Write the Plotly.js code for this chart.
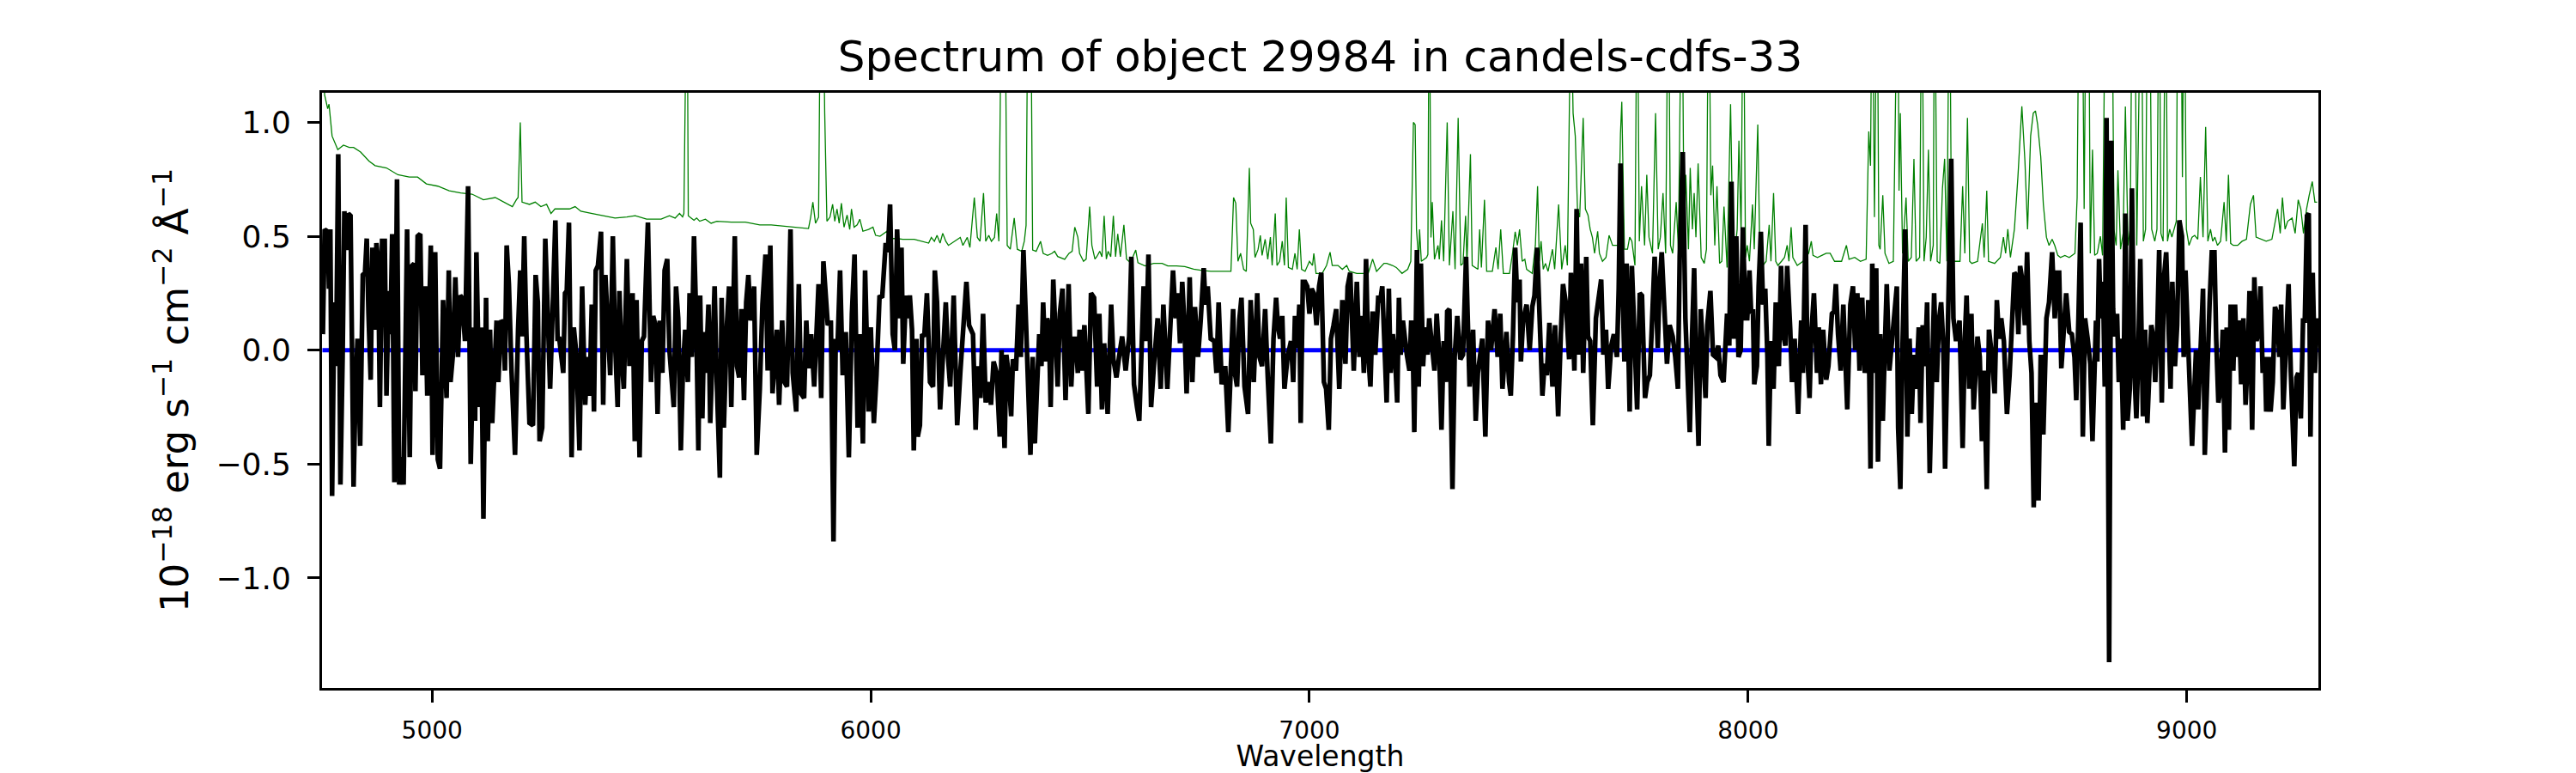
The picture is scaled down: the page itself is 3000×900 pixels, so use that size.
<!DOCTYPE html>
<html lang="en">

<head>
    <meta charset="UTF-8">
    <script src="https://cdn.plot.ly/plotly-3.0.1.min.js"></script>
    <title>Spectrum of object 29984</title>
    <style>
        body { margin: 0; background: #fff; }
        #spectrum { width: 3000px; height: 900px; }
    </style>
</head>

<body>
    <div id="spectrum"></div>

    <script>
        var obsPoints = [
            [4751,0.07],[4755,0.53],[4762,0.52],[4765,0.27],[4768,0.53],[4772,-0.64],[4777,0.21],[4781,-0.07],[4786,0.86],[4791,-0.59],
            [4796,-0.03],[4800,0.61],[4804,0.44],[4809,0.60],[4814,0.59],[4821,-0.60],[4825,-0.21],[4830,0.05],[4836,-0.42],[4842,0.33],
            [4847,0.34],[4851,0.49],[4855,0.16],[4860,-0.13],[4864,0.45],[4870,0.09],[4873,0.47],[4877,0.39],[4881,-0.25],[4886,0.48],
            [4892,0.48],[4896,-0.20],[4901,0.26],[4905,0.07],[4909,0.51],[4914,-0.58],[4920,0.75],[4925,-0.59],[4930,-0.47],[4935,-0.59],
            [4943,0.53],[4949,-0.47],[4954,0.37],[4959,0.38],[4962,-0.18],[4967,0.50],[4973,0.51],[4978,-0.11],[4984,0.28],[4989,-0.20],
            [4997,0.46],[5001,-0.46],[5007,0.43],[5013,-0.48],[5018,-0.52],[5025,0.22],[5033,-0.21],[5038,0.35],[5042,-0.14],[5047,-0.03],
            [5053,0.32],[5059,-0.03],[5064,0.24],[5068,0.23],[5075,0.04],[5082,0.72],[5088,-0.50],[5095,0.10],[5098,-0.31],[5101,0.43],
            [5108,-0.25],[5112,0.10],[5117,-0.74],[5123,0.23],[5127,-0.40],[5132,0.09],[5137,-0.32],[5142,-0.10],[5147,0.13],[5151,-0.14],
            [5157,0.13],[5162,0.12],[5166,-0.09],[5170,0.46],[5175,0.29],[5181,-0.09],[5189,-0.46],[5196,0.09],[5201,0.35],[5205,0.06],
            [5210,0.50],[5215,0.07],[5222,-0.32],[5230,-0.33],[5236,0.33],[5241,0.21],[5245,-0.40],[5251,-0.34],[5258,0.49],[5264,0.14],
            [5269,-0.17],[5274,0.13],[5281,0.57],[5286,0.05],[5290,0.05],[5299,-0.10],[5303,0.25],[5307,0.26],[5312,0.56],[5318,-0.47],
            [5323,0.10],[5329,-0.02],[5336,-0.44],[5342,0.28],[5349,-0.24],[5354,-0.03],[5359,-0.20],[5364,0.20],[5369,-0.27],[5373,0.35],
            [5378,0.37],[5385,0.52],[5390,-0.24],[5395,0.33],[5401,0.02],[5406,-0.11],[5412,0.50],[5417,0.04],[5423,-0.25],[5427,0.26],
            [5432,-0.03],[5437,-0.17],[5444,0.40],[5450,-0.07],[5457,0.25],[5462,-0.40],[5466,0.22],[5473,-0.47],[5478,0.04],[5483,0.06],
            [5488,0.35],[5492,0.56],[5499,-0.14],[5504,0.15],[5509,0.11],[5514,-0.28],[5519,0.13],[5525,-0.10],[5530,0.35],[5536,0.40],
            [5541,0.00],[5551,-0.25],[5556,0.28],[5561,0.14],[5567,-0.44],[5572,-0.07],[5577,0.09],[5583,-0.14],[5587,0.25],[5592,-0.03],
            [5597,0.50],[5602,0.14],[5607,-0.44],[5611,0.24],[5616,-0.30],[5620,0.08],[5624,-0.10],[5630,0.20],[5634,-0.32],[5639,0.07],
            [5644,0.28],[5649,-0.14],[5656,-0.56],[5660,0.23],[5665,-0.34],[5672,0.11],[5677,0.28],[5682,-0.25],[5690,0.50],[5695,-0.07],
            [5700,-0.12],[5705,0.18],[5711,-0.22],[5716,0.21],[5721,0.33],[5726,0.13],[5734,0.28],[5740,-0.46],[5747,-0.17],[5753,0.20],
            [5760,0.42],[5765,-0.09],[5771,0.46],[5776,-0.19],[5781,-0.07],[5786,0.09],[5791,-0.24],[5798,0.13],[5803,-0.14],[5809,-0.16],
            [5817,0.53],[5822,-0.10],[5830,-0.27],[5836,0.29],[5841,-0.19],[5848,-0.21],[5853,0.13],[5858,-0.08],[5864,0.07],[5871,-0.16],
            [5881,0.29],[5887,-0.21],[5892,0.39],[5897,0.20],[5902,0.11],[5909,0.13],[5915,-0.84],[5920,0.05],[5924,0.00],[5930,0.35],
            [5936,-0.11],[5943,0.08],[5950,-0.47],[5957,0.16],[5963,0.42],[5970,-0.34],[5975,0.07],[5982,-0.41],[5987,0.35],[5995,-0.27],
            [6000,0.10],[6007,-0.32],[6013,-0.11],[6020,0.24],[6026,0.23],[6034,0.47],[6039,0.43],[6044,0.64],[6050,0.07],[6055,0.00],
            [6060,0.53],[6067,0.14],[6070,0.45],[6074,-0.06],[6080,0.24],[6085,0.14],[6089,0.24],[6094,0.09],[6098,-0.44],[6104,0.05],
            [6107,-0.38],[6112,-0.33],[6117,0.07],[6122,0.06],[6128,0.25],[6135,-0.14],[6142,-0.16],[6146,0.35],[6151,0.21],[6158,-0.26],
            [6164,-0.04],[6171,0.21],[6176,-0.03],[6181,-0.16],[6189,0.24],[6197,-0.33],[6204,-0.10],[6210,0.06],[6218,0.30],[6224,0.11],
            [6233,0.07],[6239,-0.35],[6244,-0.07],[6250,-0.21],[6256,0.16],[6262,-0.23],[6269,-0.14],[6274,-0.24],[6280,-0.05],[6287,-0.10],
            [6294,-0.38],[6298,0.00],[6305,-0.43],[6309,-0.02],[6314,-0.10],[6320,-0.29],[6324,-0.04],[6331,-0.09],[6337,0.20],[6342,-0.03],
            [6348,0.44],[6354,0.11],[6364,-0.46],[6369,-0.03],[6374,-0.41],[6378,-0.21],[6384,0.07],[6389,-0.07],[6393,0.21],[6398,-0.05],
            [6402,0.14],[6406,0.11],[6410,-0.25],[6416,0.31],[6421,0.07],[6426,-0.16],[6431,0.16],[6437,0.27],[6444,-0.22],[6451,0.29],
            [6457,-0.16],[6462,0.05],[6467,0.05],[6472,-0.10],[6476,0.09],[6481,-0.09],[6487,0.11],[6491,-0.03],[6496,-0.28],[6502,0.25],
            [6509,0.23],[6516,-0.16],[6521,0.16],[6527,-0.26],[6532,0.03],[6540,-0.28],[6548,0.20],[6553,-0.04],[6560,-0.12],[6566,-0.03],
            [6573,0.06],[6581,-0.09],[6589,0.06],[6594,0.41],[6600,-0.15],[6607,-0.25],[6612,-0.31],[6622,0.28],[6628,0.04],[6633,0.42],
            [6639,-0.25],[6646,-0.05],[6654,0.14],[6661,-0.17],[6667,0.20],[6676,-0.17],[6682,0.05],[6689,0.35],[6695,0.14],[6700,0.25],
            [6705,0.03],[6710,0.30],[6715,0.11],[6720,-0.19],[6727,0.32],[6733,-0.14],[6739,0.19],[6746,-0.03],[6752,0.13],[6759,0.36],
            [6763,0.20],[6768,0.28],[6775,0.05],[6783,0.04],[6788,-0.10],[6793,0.21],[6800,-0.15],[6808,-0.07],[6815,-0.36],[6821,-0.02],
            [6826,0.18],[6830,-0.10],[6835,-0.16],[6840,0.13],[6845,0.23],[6852,-0.16],[6860,-0.28],[6866,0.22],[6873,-0.14],[6881,0.25],
            [6886,-0.03],[6892,-0.07],[6899,0.18],[6905,-0.12],[6912,-0.41],[6918,0.05],[6924,0.23],[6928,0.11],[6933,0.05],[6938,0.15],
            [6943,-0.17],[6950,-0.03],[6958,0.04],[6963,-0.14],[6967,0.15],[6972,0.01],[6977,0.20],[6980,-0.32],[6985,0.30],[6990,0.30],
            [6995,0.28],[7000,0.16],[7005,0.27],[7010,0.25],[7016,0.11],[7022,0.28],[7027,0.34],[7033,-0.14],[7038,-0.17],[7044,-0.35],
            [7049,0.05],[7055,0.11],[7061,0.18],[7068,-0.17],[7075,0.22],[7082,-0.06],[7087,0.28],[7093,0.34],[7101,-0.09],[7108,0.30],
            [7114,-0.03],[7119,0.15],[7124,-0.10],[7129,0.40],[7134,-0.02],[7139,-0.16],[7144,0.17],[7150,-0.02],[7157,0.24],[7161,0.21],
            [7166,0.28],[7176,-0.23],[7181,0.27],[7185,-0.10],[7190,0.07],[7195,-0.02],[7200,-0.23],[7204,0.23],[7208,-0.02],[7213,0.13],
            [7217,0.04],[7222,-0.02],[7228,-0.09],[7232,0.13],[7236,-0.03],[7239,-0.36],[7245,0.44],[7249,-0.16],[7254,0.38],[7259,-0.07],
            [7264,0.10],[7269,-0.02],[7273,0.14],[7280,-0.03],[7285,-0.09],[7290,0.16],[7296,-0.03],[7301,-0.35],[7306,0.04],[7311,-0.14],
            [7314,0.17],[7319,0.18],[7326,-0.61],[7331,-0.03],[7337,0.15],[7344,-0.04],[7350,-0.02],[7357,0.41],[7365,-0.16],[7373,0.09],
            [7379,-0.31],[7384,-0.10],[7394,0.05],[7401,-0.38],[7407,0.13],[7414,0.00],[7422,0.18],[7429,-0.03],[7435,0.16],[7440,-0.17],
            [7444,-0.03],[7449,0.08],[7455,-0.14],[7459,-0.20],[7464,0.07],[7469,0.45],[7474,0.21],[7479,0.31],[7482,-0.05],[7487,0.13],
            [7495,0.20],[7502,0.00],[7508,0.19],[7513,0.24],[7519,0.45],[7524,0.13],[7531,-0.20],[7536,-0.06],[7541,-0.11],[7547,0.12],
            [7554,-0.16],[7560,0.11],[7567,-0.29],[7573,0.07],[7578,0.29],[7585,0.20],[7592,-0.04],[7596,0.34],[7604,-0.09],[7609,0.62],
            [7614,-0.02],[7619,0.38],[7624,-0.10],[7631,0.41],[7635,0.06],[7640,0.04],[7646,-0.33],[7653,0.14],[7658,0.23],[7665,0.31],
            [7670,-0.02],[7676,0.09],[7681,-0.17],[7688,0.02],[7694,0.07],[7701,-0.03],[7705,0.27],[7709,0.82],[7714,0.25],[7718,-0.05],
            [7723,0.38],[7730,-0.27],[7735,0.37],[7740,0.11],[7747,-0.26],[7753,0.25],[7758,0.24],[7765,-0.21],[7770,-0.14],[7776,-0.11],
            [7782,0.16],[7787,0.41],[7794,0.01],[7798,0.28],[7803,0.43],[7808,0.21],[7815,-0.06],[7821,0.11],[7828,0.06],[7834,-0.03],
            [7840,-0.17],[7844,0.41],[7851,0.87],[7857,0.14],[7862,-0.13],[7867,-0.36],[7872,0.05],[7877,0.36],[7881,-0.03],[7887,-0.42],
            [7892,0.18],[7896,0.04],[7903,-0.21],[7907,0.11],[7914,0.26],[7920,-0.02],[7926,-0.03],[7932,0.02],[7937,-0.11],[7944,-0.14],
            [7952,0.16],[7957,0.02],[7962,0.74],[7968,0.05],[7973,0.50],[7978,-0.03],[7983,0.00],[7988,0.54],[7994,0.14],[7998,0.14],
            [8003,0.35],[8007,0.16],[8011,0.18],[8014,-0.15],[8020,-0.07],[8024,0.28],[8029,0.52],[8034,0.20],[8039,0.27],[8044,-0.03],
            [8047,-0.42],[8052,0.04],[8058,-0.17],[8063,0.21],[8070,-0.07],[8075,0.37],[8080,0.07],[8085,0.02],[8089,0.37],[8096,0.09],
            [8100,-0.14],[8106,0.05],[8114,-0.28],[8121,0.13],[8125,-0.10],[8131,0.55],[8135,-0.02],[8140,-0.21],[8144,0.07],[8150,0.25],
            [8157,-0.10],[8161,0.10],[8166,-0.15],[8171,0.09],[8178,-0.13],[8183,-0.07],[8191,0.16],[8196,0.17],[8200,0.29],[8205,0.07],
            [8211,-0.09],[8217,0.20],[8222,-0.09],[8226,-0.26],[8233,0.20],[8239,0.28],[8244,0.00],[8249,0.25],[8254,-0.09],[8260,0.23],
            [8266,-0.10],[8270,-0.03],[8274,0.22],[8279,-0.52],[8283,0.38],[8288,-0.10],[8292,0.36],[8296,-0.49],[8301,0.07],[8307,-0.31],
            [8311,-0.03],[8316,0.29],[8322,-0.09],[8328,0.05],[8334,0.13],[8339,0.28],[8342,-0.34],[8347,-0.61],[8352,0.02],[8358,0.53],
            [8363,-0.38],[8368,0.05],[8373,-0.28],[8378,-0.02],[8383,-0.17],[8389,0.10],[8393,-0.32],[8398,0.11],[8403,-0.07],[8408,0.21],
            [8414,-0.54],[8419,0.00],[8424,0.25],[8430,-0.14],[8435,0.13],[8440,0.21],[8445,0.02],[8449,-0.52],[8455,0.05],[8458,0.22],
            [8463,0.84],[8468,0.14],[8474,0.04],[8482,0.13],[8489,-0.43],[8494,0.05],[8498,0.24],[8504,-0.17],[8509,0.16],[8514,-0.26],
            [8519,-0.01],[8523,0.06],[8528,-0.03],[8533,-0.40],[8538,-0.09],[8544,-0.61],[8549,0.09],[8556,-0.03],[8562,-0.19],[8567,0.22],
            [8572,0.05],[8577,0.14],[8583,0.04],[8590,-0.28],[8596,-0.11],[8601,0.14],[8607,0.34],[8611,0.33],[8616,0.07],[8620,0.37],
            [8624,0.32],[8631,0.11],[8636,0.43],[8641,0.04],[8646,-0.10],[8651,-0.69],[8657,-0.23],[8662,-0.66],[8667,-0.02],[8673,-0.37],
            [8680,0.14],[8686,0.21],[8693,0.43],[8699,0.14],[8705,0.34],[8709,0.34],[8714,-0.08],[8719,0.07],[8725,0.25],[8732,0.08],
            [8738,0.07],[8744,-0.03],[8748,-0.22],[8753,0.14],[8758,0.56],[8763,-0.38],[8768,0.14],[8774,0.05],[8780,-0.06],[8785,-0.40],
            [8793,0.13],[8796,-0.05],[8800,0.40],[8804,0.14],[8809,0.30],[8813,-0.16],[8817,1.02],[8823,-1.37],[8828,0.92],[8832,0.18],
            [8836,0.06],[8841,0.16],[8845,-0.14],[8850,0.05],[8855,-0.35],[8860,0.60],[8865,-0.31],[8870,-0.17],[8875,0.71],[8880,-0.07],
            [8885,-0.30],[8889,-0.05],[8894,0.40],[8900,-0.29],[8905,0.09],[8910,-0.32],[8914,-0.16],[8919,0.11],[8924,0.05],[8928,-0.14],
            [8933,0.11],[8937,0.44],[8943,-0.23],[8948,0.32],[8953,0.43],[8958,0.16],[8963,-0.17],[8967,0.30],[8973,-0.07],[8978,0.11],
            [8983,0.57],[8989,0.50],[8993,-0.03],[8997,0.35],[9002,0.14],[9006,-0.12],[9012,-0.42],[9017,-0.19],[9021,0.00],[9026,-0.26],
            [9031,0.00],[9037,0.27],[9041,-0.46],[9048,0.04],[9052,0.21],[9057,0.43],[9063,0.43],[9067,0.05],[9072,-0.23],[9077,-0.17],
            [9082,0.09],[9087,-0.45],[9091,0.10],[9096,-0.35],[9100,0.20],[9106,-0.09],[9110,0.20],[9114,-0.03],[9119,0.13],[9124,-0.15],
            [9129,0.14],[9134,-0.24],[9139,-0.03],[9143,0.26],[9149,-0.35],[9154,0.32],[9159,0.04],[9164,0.09],[9168,0.28],[9173,-0.10],
            [9178,-0.03],[9181,-0.27],[9187,-0.03],[9191,-0.27],[9196,-0.14],[9201,0.19],[9206,0.16],[9211,-0.03],[9215,0.20],[9220,-0.26],
            [9226,0.04],[9232,0.29],[9237,-0.09],[9245,-0.51],[9250,-0.12],[9254,-0.10],[9260,-0.30],[9265,0.13],[9269,0.13],[9274,0.59],
            [9278,0.60],[9282,-0.38],[9287,0.34],[9292,-0.10],[9297,0.14]
        ]

        // noise / sky spectrum (green), values above the axis top are clipped
        var skyPoints = [
            [4751,1.25],[4755,1.12],[4762,1.06],[4765,1.08],[4772,0.94],[4785,0.88],[4798,0.90],[4811,0.89],[4821,0.89],[4837,0.87],
            [4856,0.83],[4870,0.81],[4896,0.80],[4922,0.77],[4948,0.76],[4967,0.76],[4987,0.73],[5013,0.72],[5039,0.70],[5065,0.69],
            [5091,0.685],[5117,0.66],[5144,0.67],[5170,0.645],[5183,0.63],[5192,0.66],[5196,0.67],[5201,1.00],[5205,0.65],[5222,0.64],
            [5235,0.65],[5248,0.63],[5261,0.64],[5271,0.60],[5280,0.62],[5294,0.62],[5313,0.62],[5326,0.63],[5339,0.61],[5365,0.60],
            [5391,0.59],[5417,0.58],[5444,0.585],[5463,0.59],[5489,0.575],[5522,0.575],[5541,0.59],[5554,0.58],[5564,0.60],[5571,0.585],
            [5574,0.60],[5577,1.8],[5581,1.8],[5584,0.59],[5590,0.58],[5597,0.57],[5603,0.58],[5610,0.566],[5623,0.575],[5636,0.557],
            [5649,0.566],[5682,0.562],[5714,0.562],[5747,0.55],[5773,0.55],[5812,0.543],[5858,0.534],[5863,0.584],[5868,0.65],[5874,0.557],
            [5881,0.584],[5886,1.8],[5890,1.8],[5895,1.04],[5900,0.566],[5907,0.584],[5913,0.64],[5918,0.566],[5923,0.62],[5928,0.557],
            [5933,0.645],[5939,0.54],[5946,0.593],[5952,0.53],[5956,0.62],[5962,0.54],[5969,0.55],[5975,0.575],[5982,0.522],[5995,0.53],
            [6005,0.54],[6011,0.504],[6021,0.50],[6037,0.522],[6047,0.49],[6060,0.49],[6073,0.487],[6099,0.487],[6119,0.478],[6132,0.47],
            [6138,0.495],[6145,0.478],[6151,0.504],[6158,0.47],[6164,0.513],[6171,0.478],[6177,0.46],[6204,0.495],[6210,0.46],[6220,0.495],
            [6226,0.451],[6236,0.67],[6243,0.495],[6249,0.478],[6257,0.69],[6262,0.478],[6269,0.504],[6275,0.478],[6282,0.495],[6287,0.60],
            [6292,0.478],[6297,1.8],[6301,2.2],[6305,1.8],[6311,0.46],[6318,0.443],[6321,0.495],[6327,0.58],[6334,0.443],[6344,0.434],
            [6350,0.478],[6354,0.548],[6359,1.8],[6364,1.8],[6369,0.44],[6377,0.434],[6387,0.478],[6393,0.425],[6403,0.416],[6413,0.425],
            [6419,0.434],[6426,0.411],[6442,0.399],[6452,0.425],[6459,0.434],[6465,0.54],[6472,0.496],[6476,0.425],[6485,0.39],[6491,0.40],
            [6499,0.63],[6504,0.46],[6511,0.40],[6515,0.41],[6522,0.434],[6527,0.41],[6532,0.59],[6537,0.40],[6541,0.434],[6547,0.41],
            [6553,0.59],[6558,0.41],[6563,0.51],[6569,0.41],[6577,0.55],[6583,0.40],[6592,0.384],[6604,0.44],[6609,0.384],[6625,0.37],
            [6645,0.381],[6664,0.381],[6677,0.37],[6697,0.37],[6716,0.367],[6736,0.356],[6755,0.35],[6775,0.346],[6795,0.346],[6821,0.346],
            [6827,0.67],[6832,0.645],[6837,0.39],[6843,0.425],[6850,0.355],[6856,0.346],[6863,0.80],[6866,0.557],[6872,0.53],[6876,0.407],
            [6883,0.443],[6888,0.504],[6892,0.416],[6899,0.487],[6905,0.399],[6911,0.496],[6915,0.372],[6922,0.60],[6926,0.372],[6932,0.39],
            [6938,0.478],[6943,0.372],[6947,0.67],[6952,0.363],[6961,0.355],[6967,0.425],[6972,0.355],[6977,0.53],[6982,0.355],[6990,0.346],
            [7000,0.39],[7007,0.372],[7010,0.425],[7015,0.337],[7029,0.337],[7039,0.372],[7047,0.43],[7052,0.372],[7065,0.372],[7075,0.355],
            [7085,0.372],[7091,0.346],[7108,0.337],[7124,0.337],[7134,0.337],[7144,0.40],[7153,0.346],[7170,0.381],[7176,0.381],[7189,0.372],
            [7198,0.363],[7211,0.337],[7224,0.355],[7231,0.39],[7237,1.0],[7241,0.99],[7244,0.53],[7249,0.39],[7251,0.53],[7255,0.39],
            [7267,0.407],[7270,0.42],[7273,1.8],[7277,0.495],[7280,0.65],[7285,0.399],[7293,0.46],[7296,0.399],[7301,0.57],[7306,0.39],
            [7314,1.0],[7319,0.372],[7327,0.61],[7332,0.355],[7339,1.02],[7345,0.372],[7350,0.381],[7356,0.59],[7359,0.381],[7367,0.86],
            [7371,0.372],[7384,0.355],[7388,0.53],[7392,0.363],[7399,0.66],[7404,0.346],[7417,0.346],[7425,0.451],[7430,0.355],[7436,0.53],
            [7442,0.337],[7456,0.337],[7463,0.425],[7469,0.52],[7474,0.46],[7479,0.53],[7485,0.39],[7491,0.399],[7495,0.355],[7508,0.337],
            [7515,0.46],[7520,0.72],[7524,0.39],[7528,0.478],[7533,0.355],[7538,0.381],[7544,0.346],[7554,0.443],[7559,0.355],[7568,0.64],
            [7575,0.355],[7583,0.46],[7588,0.372],[7596,1.6],[7601,1.04],[7606,0.94],[7611,0.62],[7616,0.584],[7624,1.02],[7629,0.62],
            [7635,0.593],[7640,0.531],[7645,0.495],[7650,0.425],[7657,0.522],[7661,0.425],[7668,0.39],[7676,0.407],[7683,0.504],[7691,0.46],
            [7697,0.46],[7704,0.46],[7709,0.95],[7712,1.09],[7718,0.443],[7725,0.443],[7730,0.496],[7735,0.478],[7742,0.372],[7747,1.8],
            [7752,0.478],[7757,0.72],[7764,0.46],[7769,0.77],[7774,0.496],[7782,0.425],[7789,1.04],[7795,0.443],[7800,0.496],[7806,0.69],
            [7812,0.425],[7818,1.8],[7823,0.46],[7828,0.425],[7836,0.65],[7841,0.443],[7849,1.8],[7854,0.496],[7858,0.77],[7864,0.443],
            [7868,0.80],[7873,0.531],[7877,0.69],[7881,0.496],[7886,0.82],[7893,0.407],[7900,0.381],[7905,0.443],[7910,1.8],[7915,0.68],
            [7919,0.81],[7924,0.46],[7929,0.72],[7935,0.381],[7940,0.39],[7945,0.63],[7952,0.363],[7960,1.08],[7965,0.496],[7970,0.425],
            [7975,0.531],[7979,0.92],[7984,0.513],[7989,1.8],[7994,0.407],[7998,0.46],[8003,0.39],[8010,0.64],[8014,0.443],[8022,0.99],
            [8027,0.39],[8034,0.372],[8041,0.39],[8048,0.55],[8052,0.39],[8058,0.69],[8063,0.39],[8068,0.372],[8076,0.39],[8083,0.407],
            [8089,0.46],[8093,0.39],[8098,0.54],[8102,0.407],[8112,0.372],[8125,0.39],[8138,0.425],[8144,0.478],[8148,0.416],[8158,0.407],
            [8168,0.416],[8178,0.425],[8187,0.425],[8197,0.39],[8213,0.39],[8224,0.46],[8230,0.399],[8243,0.407],[8256,0.39],[8269,0.399],
            [8275,0.96],[8279,0.81],[8283,1.8],[8288,0.584],[8294,1.8],[8298,0.46],[8301,0.443],[8307,0.68],[8312,0.425],[8321,0.381],
            [8331,0.39],[8337,1.8],[8341,1.8],[8344,0.70],[8347,1.04],[8352,0.425],[8360,0.67],[8365,0.39],[8372,0.407],[8378,0.84],
            [8383,0.39],[8391,0.407],[8396,1.8],[8401,0.39],[8406,0.496],[8411,0.88],[8416,0.39],[8422,0.46],[8425,1.8],[8431,0.39],
            [8437,0.381],[8443,0.71],[8448,0.84],[8453,0.39],[8459,1.8],[8464,0.39],[8471,0.39],[8483,0.39],[8489,0.72],[8494,0.425],
            [8500,1.02],[8505,0.39],[8510,0.381],[8523,0.39],[8534,0.557],[8538,0.407],[8544,0.70],[8548,0.39],[8562,0.381],[8575,0.407],
            [8582,0.496],[8587,0.425],[8592,0.531],[8598,0.407],[8607,0.531],[8615,0.76],[8624,1.07],[8631,0.83],[8637,0.531],[8644,0.94],
            [8650,1.04],[8655,1.05],[8660,0.99],[8667,0.85],[8673,0.64],[8680,0.496],[8686,0.46],[8693,0.487],[8699,0.46],[8706,0.416],
            [8712,0.407],[8722,0.416],[8732,0.407],[8745,0.425],[8750,0.67],[8755,1.8],[8761,1.8],[8766,0.62],[8771,1.8],[8776,1.8],
            [8780,0.425],[8785,0.88],[8790,0.416],[8796,0.425],[8803,0.50],[8808,0.416],[8815,1.8],[8819,1.8],[8824,1.8],[8829,1.8],
            [8834,0.531],[8839,0.46],[8843,0.79],[8849,0.443],[8855,0.513],[8860,1.07],[8866,0.46],[8871,0.531],[8876,1.8],[8881,1.8],
            [8886,0.46],[8891,1.8],[8896,1.8],[8901,0.478],[8906,0.531],[8911,1.8],[8915,1.8],[8920,0.531],[8927,0.478],[8932,0.531],
            [8937,1.8],[8941,0.513],[8946,0.478],[8952,1.8],[8956,0.478],[8961,0.531],[8966,0.496],[8971,0.531],[8976,0.566],[8980,1.8],
            [8986,1.8],[8990,0.76],[8994,1.8],[8999,0.531],[9005,0.46],[9012,0.496],[9018,0.504],[9025,0.487],[9031,0.76],[9037,0.496],
            [9043,0.98],[9048,0.478],[9054,0.531],[9059,0.478],[9064,0.496],[9070,0.46],[9077,0.478],[9085,0.65],[9090,0.478],[9095,0.77],
            [9100,0.469],[9106,0.46],[9116,0.46],[9126,0.478],[9136,0.487],[9145,0.64],[9152,0.68],[9158,0.496],[9168,0.487],[9181,0.478],
            [9194,0.487],[9207,0.62],[9213,0.513],[9218,0.67],[9224,0.531],[9230,0.566],[9240,0.58],[9247,0.513],[9254,0.66],[9260,0.62],
            [9266,0.513],[9273,0.62],[9279,0.68],[9286,0.74],[9292,0.65],[9297,0.65]
        ]

        // model (blue) - flat
        var modelWave = [4750, 9300]
        var modelFlux = [0.0, 0.0]

        var xTicks = [5000, 6000, 7000, 8000, 9000]
        var yTicks = [-1.0, -0.5, 0.0, 0.5, 1.0]

        var obsWave = obsPoints.map(function(p) { return p[0] })
        var obsFlux = obsPoints.map(function(p) { return p[1] })
        var skyWave = skyPoints.map(function(p) { return p[0] })
        var skyFlux = skyPoints.map(function(p) { return p[1] })

        var traces = [{
            x: skyWave,
            y: skyFlux,
            mode: 'lines',
            line: { color: '#008000', width: 1.3 },
            hoverinfo: 'skip'
        }, {
            x: modelWave,
            y: modelFlux,
            mode: 'lines',
            line: { color: '#0000ff', width: 5 },
            hoverinfo: 'skip'
        }, {
            x: obsWave,
            y: obsFlux,
            mode: 'lines',
            line: { color: '#000000', width: 5.5 },
            hoverinfo: 'skip'
        }]

        var layout = {
            width: 3000,
            height: 900,
            showlegend: false,
            paper_bgcolor: '#ffffff',
            plot_bgcolor: '#ffffff',
            font: { family: 'DejaVu Sans', color: '#000000' },
            margin: { l: 375, r: 300, t: 108, b: 99, pad: 0 },
            title: {
                text: 'Spectrum of object 29984 in candels-cdfs-33',
                font: { size: 50, color: '#000000' },
                x: 0.5,
                xref: 'paper',
                y: 0.927,
                yref: 'container',
                yanchor: 'middle'
            },
            xaxis: {
                range: [4749, 9300],
                tickvals: xTicks,
                ticks: 'outside',
                ticklen: 14,
                tickwidth: 3,
                tickcolor: '#000000',
                ticklabelstandoff: 8,
                tickfont: { size: 28, color: '#000000' },
                showline: true,
                linewidth: 3,
                linecolor: '#000000',
                mirror: true,
                showgrid: false,
                zeroline: false,
                title: { text: 'Wavelength', font: { size: 33, color: '#000000' }, standoff: 6 }
            },
            yaxis: {
                range: [-1.483, 1.13],
                tickvals: yTicks,
                tickformat: '.1f',
                ticks: 'outside',
                ticklen: 14,
                tickwidth: 3,
                tickcolor: '#000000',
                ticklabelstandoff: 12,
                tickfont: { size: 36, color: '#000000' },
                showline: true,
                linewidth: 3,
                linecolor: '#000000',
                mirror: true,
                showgrid: false,
                zeroline: false,
                title: {
                    text: '10<sup>\u221218</sup> erg s<sup>\u22121</sup> cm<sup>\u22122</sup> \u00c5<sup>\u22121</sup>',
                    font: { size: 45, color: '#000000' },
                    standoff: 18
                }
            }
        }

        Plotly.newPlot('spectrum', traces, layout, { staticPlot: true, displayModeBar: false })
    </script>
</body>

</html>
